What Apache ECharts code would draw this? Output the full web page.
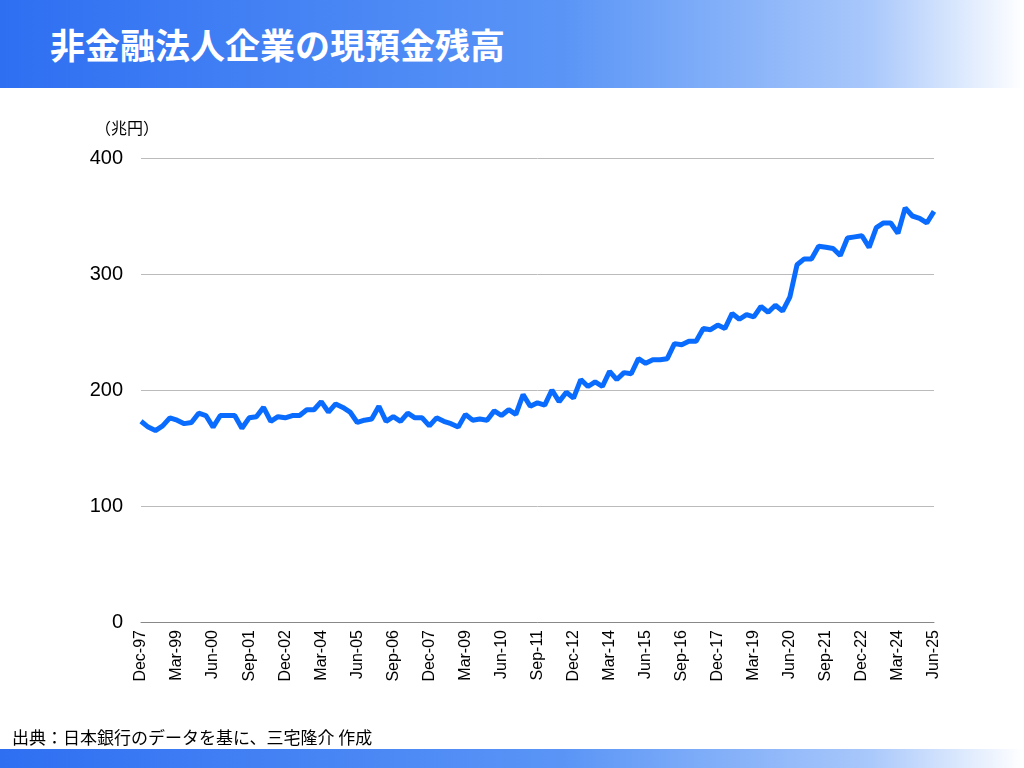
<!DOCTYPE html>
<html><head><meta charset="utf-8">
<script src="https://cdn.jsdelivr.net/npm/echarts@6/dist/echarts.min.js"></script>
<style>
body{margin:0;width:1024px;height:768px;overflow:hidden;background:#fff;font-family:"Noto Sans CJK JP",sans-serif;position:relative}
#top{position:absolute;left:0;top:0;width:1024px;height:88px;background:linear-gradient(90deg,#2e6ff2 0%,#5a95f6 55%,#a9c8fb 85%,#ffffff 100%)}
#top div{position:absolute;left:50px;top:18px;color:#fff;font-size:35px;font-weight:bold}
#bot{position:absolute;left:0;top:749px;width:1024px;height:19px;background:linear-gradient(90deg,#2e6ff2 0%,#5a95f6 55%,#a9c8fb 85%,#ffffff 100%)}
#src{position:absolute;left:12px;top:724px;font-size:17px;color:#000}
#c{position:absolute;left:0;top:0;width:1024px;height:768px}
</style></head><body>
<div id="top"><div>非金融法人企業の現預金残高</div></div>
<div id="c"></div>
<div id="bot"></div>
<div id="src">出典：日本銀行のデータを基に、三宅隆介 作成</div>
<script>
const months = ["Mar","Jun","Sep","Dec"];
const startYear = 1997, startQ = 3, nPoints = 111;
const categories = [];
for (let i = 0; i < nPoints; i++) {
  const q = startQ + i, y = startYear + Math.floor(q / 4);
  categories.push(months[q % 4] + "-" + String(y % 100).padStart(2, "0"));
}
const values = [173,168,165,169,176,174,171,172,180,178,168,178,178,178,167,176,177,185,173,177,
176,178,178,183,183,190,181,188,185,181,172,174,175,186,173,177,173,180,176,176,
169,176,173,171,168,179,174,175,174,182,178,183,179,196,186,189,187,200,190,198,
193,209,203,207,203,216,209,215,214,227,223,226,226,227,240,239,242,242,253,252,
256,253,266,261,265,263,272,267,273,268,280,308,313,313,324,323,322,316,331,332,
333,323,340,344,344,335,357,350,348,344,354];
const yTicks = [0,100,200,300,400];
const chart = echarts.init(document.getElementById('c'));
chart.setOption({
  animation:false,
  grid:{left:141,right:90,top:158,bottom:146},
  graphic:[{type:'text',left:95,top:120,style:{text:'（兆円）',fontSize:16,fill:'#000',fontFamily:'Noto Sans CJK JP'}}],
  xAxis:{type:'category',data:categories,boundaryGap:false,
    axisLine:{lineStyle:{color:'#888'}},axisTick:{show:false},
    axisLabel:{interval:4,rotate:90,fontSize:16,color:'#000',margin:8,fontFamily:'Helvetica, Liberation Sans, sans-serif'}},
  yAxis:{type:'value',min:yTicks[0],max:yTicks[yTicks.length-1],interval:100,
    axisLine:{show:false},axisTick:{show:false},
    splitLine:{lineStyle:{color:'#bbb'}},
    axisLabel:{fontSize:20,color:'#000',margin:18,fontFamily:'Liberation Sans, sans-serif'}},
  series:[{type:'line',data:values,symbol:'none',lineStyle:{color:'#0a6cff',width:5}}]
});
</script></body></html>
